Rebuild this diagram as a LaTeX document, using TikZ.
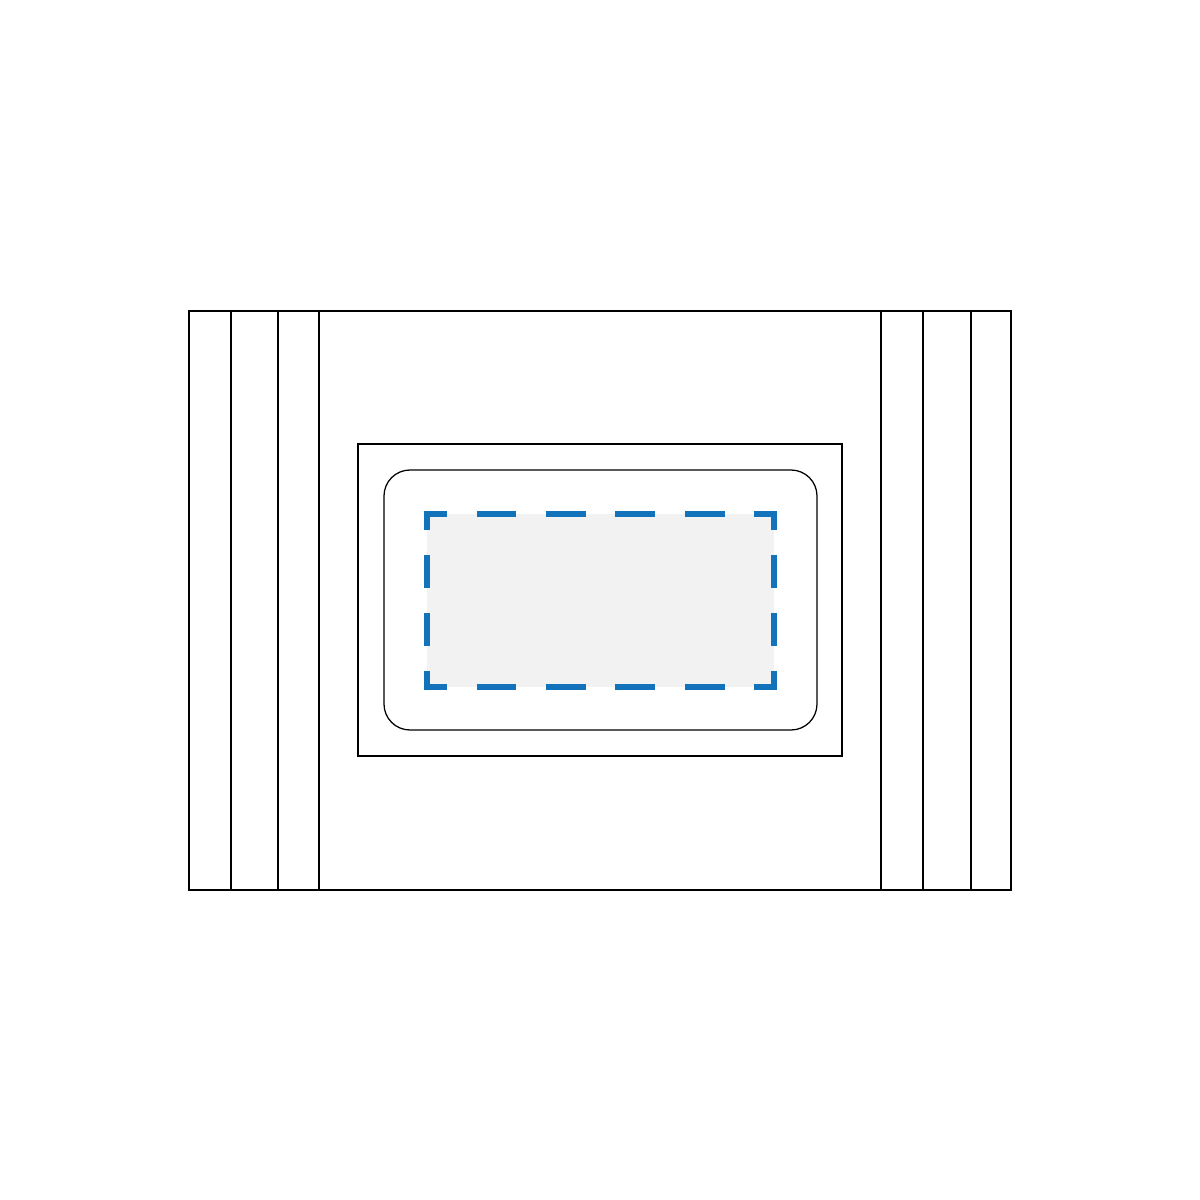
\documentclass[tikz,border=0pt]{standalone}
\usepackage{xcolor}
\usepackage{tikz}
\definecolor{pocketblue}{RGB}{18,115,187}
\definecolor{pocketgray}{RGB}{242,242,242}
\tikzset{
  outline/.style={draw=black,line width=0.9pt},
  hdash/.style={draw=pocketblue,line width=4.6pt,dash pattern=on 28.21pt off 21.16pt,dash phase=14.1pt},
  vdash/.style={draw=pocketblue,line width=4.6pt,dash pattern=on 23.44pt off 17.58pt,dash phase=11.72pt}
}

\begin{document}
\begin{tikzpicture}[x=0.025cm,y=-0.025cm]
	\useasboundingbox (0,0) rectangle (1200,1200);
	\begin{scope}[outline]
		
		% Outer panel:
		\draw (189,311) rectangle (1011,890);
		
		% Side strips:
		\foreach \n in {231,278,319,881,923,971}
		{
			\draw (\n,311) -- (\n,890);
		}
		
		% Frame and rounded window:
		\draw (358,444) rectangle (842,756);
		\draw[rounded corners=18.5pt] (384,470) rectangle (817,730);
		
	\end{scope}
	
	% Shaded area with dashed border, one side at a time:
	\fill[pocketgray] (427,514) rectangle (774,687);
	\coordinate (tl) at (427,514);
	\coordinate (tr) at (774,514);
	\coordinate (br) at (774,687);
	\coordinate (bl) at (427,687);
	\draw[hdash] (tl) -- (tr);
	\draw[hdash] (bl) -- (br);
	\draw[vdash] (tl) -- (bl);
	\draw[vdash] (tr) -- (br);
	
	% Square corners:
	\foreach \c in {tl,tr,br,bl}
	{
		\fill[pocketblue] ([shift={(-3.23,-3.23)}]\c) rectangle ([shift={(3.23,3.23)}]\c);
	}
	
\end{tikzpicture}
\end{document}
